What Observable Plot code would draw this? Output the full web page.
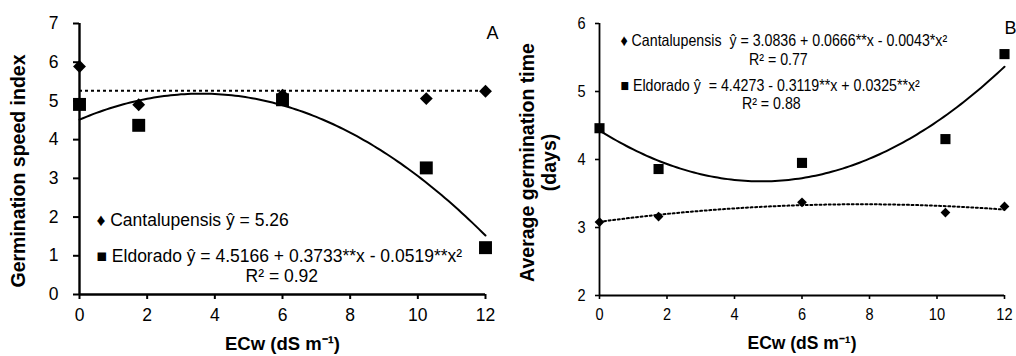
<!DOCTYPE html>
<html><head><meta charset="utf-8">
<script src="https://cdn.jsdelivr.net/npm/d3@7"></script>
<script src="https://cdn.jsdelivr.net/npm/@observablehq/plot@0.6"></script>
<style>
body{margin:0;background:#fff;}
#fig{position:relative;width:1016px;height:356px;font-family:"Liberation Sans",Arial,sans-serif;}
#fig svg{position:absolute;top:0;}
</style></head><body><div id="fig"></div>
<script>
// ---- data ----
const ecw = [0, 1.75, 6, 10.25, 12];
const xTicks = [0, 2, 4, 6, 8, 10, 12];
// Panel A: germination speed index
const gsiCantalupensis = [5.89, 4.90, 5.15, 5.06, 5.25];
const gsiEldorado = [4.91, 4.37, 5.03, 3.27, 1.21];
const gsiCantalupensisMean = 5.26;
const gsiEldoradoCoef = [4.5166, 0.3733, -0.0519];
const gsiTicks = [0, 1, 2, 3, 4, 5, 6, 7];
const gsiLegend = ["\u2666 Cantalupensis \u0177 = 5.26", "\u25A0 Eldorado \u0177 = 4.5166 + 0.3733**x - 0.0519**x\u00B2", "R\u00B2 = 0.92"];
// Panel B: average germination time
const mgtCantalupensis = [3.08, 3.16, 3.37, 3.22, 3.31];
const mgtEldorado = [4.46, 3.86, 3.95, 4.30, 5.55];
const mgtCantalupensisCoef = [3.0836, 0.0666, -0.0043];
const mgtEldoradoCoef = [4.4273, -0.3119, 0.0325];
const mgtTicks = [2, 3, 4, 5, 6];
const mgtLegend = ["\u2666 Cantalupensis  \u0177 = 3.0836 + 0.0666**x - 0.0043*x\u00B2", "R\u00B2 = 0.77", "\u25A0 Eldorado \u0177  = 4.4273 - 0.3119**x + 0.0325**x\u00B2", "R\u00B2 = 0.88"];
const xTitle = "ECw (dS m\u207B\u00B9)";
const yTitleA = "Germination speed index";
const yTitleB = "Average germination time\n(days)";

// ---- helpers ----
const font = "Liberation Sans, Arial, sans-serif";
const sizeB = 16.5;
const pts = ys => ecw.map((x, i) => ({x, y: ys[i]}));
const fitted = coef => d3.range(0, 121).map(i => { const x = i / 10; return {x, y: coef[0] + coef[1] * x + coef[2] * x * x}; });
const fmt = d3.format("d");

const A = Plot.plot({
  width: 508, height: 356, marginLeft: 79, marginRight: 23, marginTop: 23, marginBottom: 62,
  style: {fontFamily: font, fontSize: "17px", background: "transparent", overflow: "visible", color: "#000"},
  x: {domain: [0, 12]}, y: {domain: [0, 7]},
  marks: [
    Plot.axisY({ticks: gsiTicks, tickFormat: fmt, tickSize: 6, tickPadding: 15, label: null, strokeWidth: 2, fontSize: 17.5}),
    Plot.axisX({ticks: xTicks, tickFormat: fmt, tickSize: 5, tickPadding: 9, label: null, strokeWidth: 2, fontSize: 17.5}),
    Plot.ruleX([0], {strokeWidth: 2.4}),
    Plot.ruleY([0], {strokeWidth: 2.4}),
    Plot.ruleY([gsiCantalupensisMean], {x1: 0, x2: 12, strokeWidth: 2, strokeDasharray: "3,3"}),
    Plot.line(fitted(gsiEldoradoCoef), {x: "x", y: "y", strokeWidth: 2}),
    Plot.dot(pts(gsiEldorado), {x: "x", y: "y", symbol: "square", r: 7.3, fill: "#000"}),
    Plot.dot(pts(gsiCantalupensis), {x: "x", y: "y", symbol: "diamond2", r: 5.8, fill: "#000"}),
    Plot.text([gsiLegend[0]], {x: 0.5, y: 1.91, text: d => d, textAnchor: "start", fontSize: 17.5}),
    Plot.text([gsiLegend[1]], {x: 0.5, y: 0.98, text: d => d, textAnchor: "start", fontSize: 17.5}),
    Plot.text([gsiLegend[2]], {x: 5.98, y: 0.47, text: d => d, textAnchor: "middle", fontSize: 17.5}),
    Plot.text(["A"], {frameAnchor: "top-right", dx: 7, dy: 3, text: d => d, textAnchor: "middle", fontSize: 18}),
    Plot.text([xTitle], {frameAnchor: "bottom", dy: 55, text: d => d, fontWeight: "bold", fontSize: 18.5}),
    Plot.text([yTitleA], {frameAnchor: "left", dx: -61, dy: 12, rotate: -90, textAnchor: "middle", text: d => d, fontWeight: "bold", fontSize: 19.5})
  ]
});

const B = Plot.plot({
  width: 508, height: 356, marginLeft: 91, marginRight: 12, marginTop: 23, marginBottom: 61,
  style: {fontFamily: font, fontSize: sizeB + "px", background: "transparent", overflow: "visible", color: "#000"},
  x: {domain: [0, 12]}, y: {domain: [2, 6]},
  marks: [
    Plot.axisY({ticks: mgtTicks, tickFormat: fmt, tickSize: 4, tickPadding: 10, label: null, strokeWidth: 1.6, fontSize: sizeB + 0.5}),
    Plot.axisX({ticks: xTicks, tickFormat: fmt, tickSize: 4, tickPadding: 8, label: null, strokeWidth: 1.6, fontSize: sizeB + 0.5}),
    Plot.ruleX([0], {strokeWidth: 1.8}),
    Plot.ruleY([2], {strokeWidth: 1.8}),
    Plot.line(fitted(mgtCantalupensisCoef), {x: "x", y: "y", strokeWidth: 2, strokeDasharray: "2,2.6"}),
    Plot.line(fitted(mgtEldoradoCoef), {x: "x", y: "y", strokeWidth: 2}),
    Plot.dot(pts(mgtEldorado), {x: "x", y: "y", symbol: "square", r: 5.7, fill: "#000"}),
    Plot.dot(pts(mgtCantalupensis), {x: "x", y: "y", symbol: "diamond2", r: 4.4, fill: "#000"}),
    Plot.text([mgtLegend[0]], {x: 0.62, y: 5.75, text: d => d, textAnchor: "start", fontSize: sizeB}),
    Plot.text([mgtLegend[1]], {x: 5.3, y: 5.47, text: d => d, textAnchor: "middle", fontSize: sizeB}),
    Plot.text([mgtLegend[2]], {x: 0.62, y: 5.09, text: d => d, textAnchor: "start", fontSize: sizeB}),
    Plot.text([mgtLegend[3]], {x: 5.09, y: 4.82, text: d => d, textAnchor: "middle", fontSize: sizeB}),
    Plot.text(["B"], {className: "ttl", frameAnchor: "top-right", dx: 6, dy: -2, text: d => d, textAnchor: "middle", fontSize: 18}),
    Plot.text([xTitle], {className: "ttl", frameAnchor: "bottom", dy: 53, text: d => d, fontWeight: "bold", fontSize: 17.5}),
    Plot.text([yTitleB], {className: "ttl", frameAnchor: "left", dx: -61.5, dy: 3, rotate: -90, textAnchor: "middle", text: d => d, fontWeight: "bold", fontSize: 19.5, lineHeight: 1.1})
  ]
});
A.style.left = "0px";
B.style.left = "508px";
document.getElementById("fig").append(A, B);

// the right-hand panel of the reference uses horizontally condensed lettering
B.querySelectorAll("g:not(.ttl) > text").forEach(t => {
  const w = t.getComputedTextLength();
  t.setAttribute("textLength", (w * 0.86).toFixed(1));
  t.setAttribute("lengthAdjust", "spacingAndGlyphs");
});
</script></body></html>
